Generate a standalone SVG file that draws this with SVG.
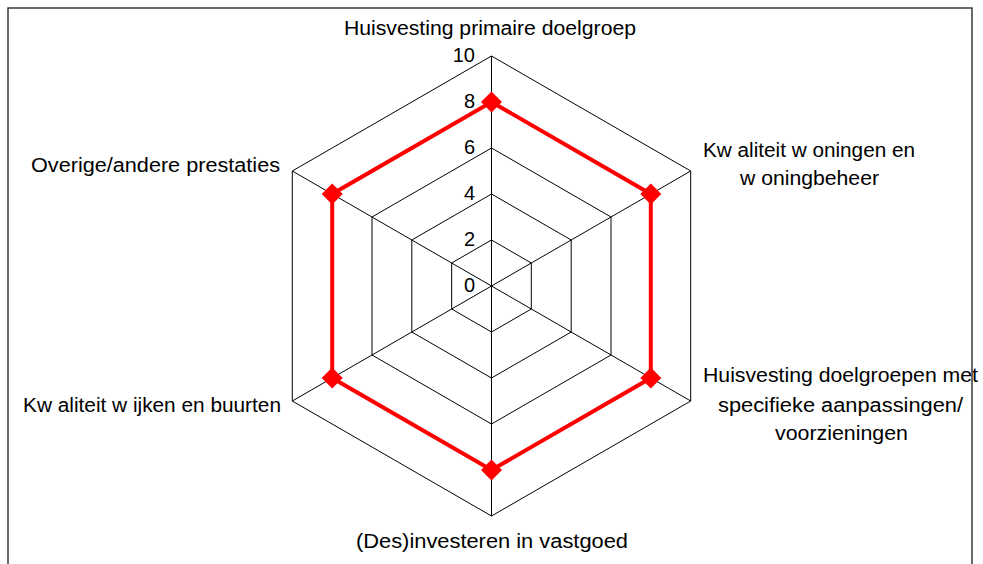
<svg xmlns="http://www.w3.org/2000/svg" width="983" height="564" viewBox="0 0 983 564">
<defs>
<style>
.grid{fill:none;stroke:#000;stroke-width:1}
.lbl{font-family:"Liberation Sans",Arial,sans-serif;font-size:20px;fill:#000}
.scale{font-family:"Liberation Sans",Arial,sans-serif;font-size:20px;fill:#000;text-anchor:end}
.series{fill:none;stroke:#ff0000;stroke-width:4;stroke-linejoin:miter}
.mk{fill:#ff0000}
</style>
<path id="dia" d="M0,-10.5 L10.5,0 L0,10.5 L-10.5,0 Z"/>
</defs>
<rect x="0" y="0" width="983" height="564" fill="#fff"/>
<g id="grid">
<polygon class="grid" points="491.5,56 690.7,171 690.7,401 491.5,516 292.3,401 292.3,171"/>
<polygon class="grid" points="491.5,102 650.8,194 650.8,378 491.5,470 332.2,378 332.2,194"/>
<polygon class="grid" points="491.5,148 611,217 611,355 491.5,424 372,355 372,217"/>
<polygon class="grid" points="491.5,194 571.2,240 571.2,332 491.5,378 411.8,332 411.8,240"/>
<polygon class="grid" points="491.5,240 531.3,263 531.3,309 491.5,332 451.7,309 451.7,263"/>
</g>
<g id="connectors">
<path class="grid" d="M491.5,286 L491.5,56 M491.5,286 L690.7,171 M491.5,286 L690.7,401 M491.5,286 L491.5,516 M491.5,286 L292.3,401 M491.5,286 L292.3,171"/>
</g>
<g id="scale">
<text class="scale" x="475" y="62">10</text>
<text class="scale" x="475" y="108">8</text>
<text class="scale" x="475" y="154">6</text>
<text class="scale" x="475" y="200">4</text>
<text class="scale" x="475" y="246">2</text>
<text class="scale" x="475" y="292">0</text>
</g>
<g id="series">
<polygon class="series" points="491.5,102 650.8,194 650.8,378 491.5,470 332.2,378 332.2,194"/>
<use href="#dia" class="mk" x="491.5" y="102"/>
<use href="#dia" class="mk" x="650.8" y="194"/>
<use href="#dia" class="mk" x="650.8" y="378"/>
<use href="#dia" class="mk" x="491.5" y="470"/>
<use href="#dia" class="mk" x="332.2" y="378"/>
<use href="#dia" class="mk" x="332.2" y="194"/>
</g>
<g id="node-huisvesting-primaire">
<text class="lbl" x="344" y="35" textLength="292" lengthAdjust="spacingAndGlyphs">Huisvesting primaire doelgroep</text>
</g>
<g id="node-kwaliteit-woningen">
<text class="lbl" x="703" y="157" textLength="212" lengthAdjust="spacingAndGlyphs">Kw aliteit w oningen en</text>
<text class="lbl" x="740" y="185" textLength="139" lengthAdjust="spacingAndGlyphs">w oningbeheer</text>
</g>
<g id="node-huisvesting-doelgroepen">
<text class="lbl" x="703" y="382" textLength="275" lengthAdjust="spacingAndGlyphs">Huisvesting doelgroepen met</text>
<text class="lbl" x="718" y="412" textLength="245" lengthAdjust="spacingAndGlyphs">specifieke aanpassingen/</text>
<text class="lbl" x="775" y="440" textLength="133" lengthAdjust="spacingAndGlyphs">voorzieningen</text>
</g>
<g id="node-desinvesteren">
<text class="lbl" x="356" y="548" textLength="272" lengthAdjust="spacingAndGlyphs">(Des)investeren in vastgoed</text>
</g>
<g id="node-kwaliteit-wijken">
<text class="lbl" x="23" y="412" textLength="258" lengthAdjust="spacingAndGlyphs">Kw aliteit w ijken en buurten</text>
</g>
<g id="node-overige">
<text class="lbl" x="31" y="172" textLength="249" lengthAdjust="spacingAndGlyphs">Overige/andere prestaties</text>
</g>
<rect x="8" y="8" width="964" height="600" fill="none" stroke="#3a3a3a" stroke-width="1.5"/>
</svg>
